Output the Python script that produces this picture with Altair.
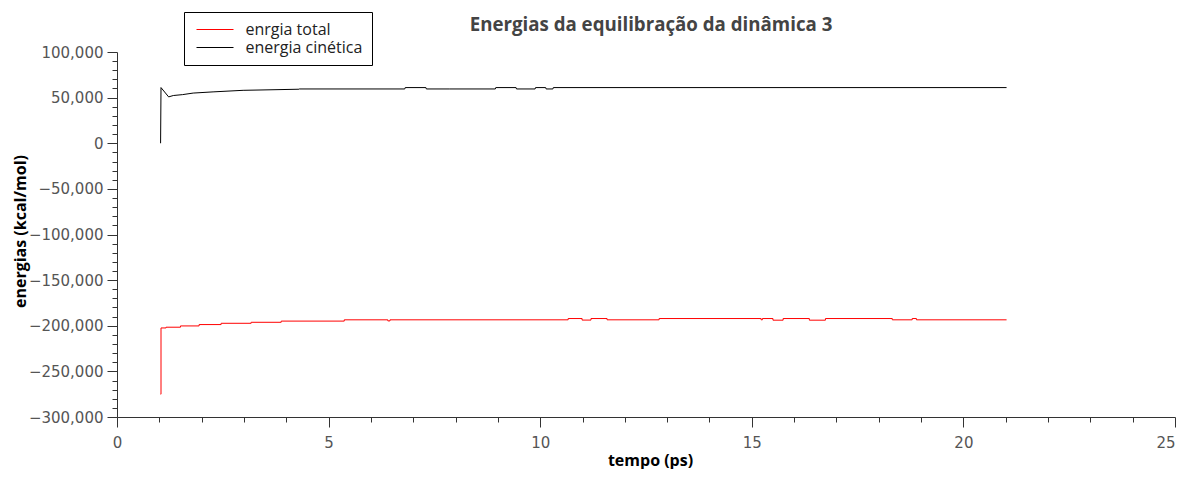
import altair as alt
import pandas as pd

# ---- data ----
series_names = ["enrgia total", "energia cinética"]
series_colors = ["#ff0000", "#000000"]

# energia cinética (linear segments)
time_kin = [1.03, 1.04, 1.22, 1.33, 1.55, 1.8, 2.27, 2.98, 4.3, 4.31, 6.8, 6.81,
            7.3, 7.31, 7.85, 8.94, 8.95, 9.43, 9.44, 9.88, 9.89, 10.13, 10.14,
            10.3, 10.31, 21.02]
kin = [0, 61000, 50800, 52300, 53300, 55000, 56300, 58000, 59200, 59500, 59500,
       61000, 61000, 59500, 59500, 59500, 61000, 61000, 59500, 59500, 61000,
       61000, 59500, 59500, 61000, 61000]

# enrgia total (step levels: value holds from this time on)
time_tot = [1.03, 1.04, 1.16, 1.5, 1.94, 2.46, 3.17, 3.88, 5.37, 6.4, 6.45,
            10.66, 10.99, 11.2, 11.58, 12.81, 15.22, 15.25, 15.5, 15.74, 16.36,
            16.74, 18.32, 18.79, 18.89, 21.02]
tot = [-275000, -202400, -201600, -200200, -198700, -197300, -196200, -194900,
       -193500, -194700, -193500, -192100, -193800, -192100, -193500, -192100,
       -193500, -192100, -193900, -192100, -193900, -192100, -193500, -192100,
       -193500, -193500]

x_ticks = list(range(0, 26))
y_ticks = list(range(-300000, 100001, 10000))

FONT = "Open Sans"
NUM_FONT = "DejaVu Sans"

df_kin = pd.DataFrame({"t": time_kin, "e": kin, "serie": series_names[1]})
df_tot = pd.DataFrame({"t": time_tot, "e": tot, "serie": series_names[0]})

x_enc = alt.X(
    "t:Q",
    scale=alt.Scale(domain=[0, 25], nice=False, zero=False),
    axis=alt.Axis(
        title="tempo (ps)",
        values=x_ticks,
        labelExpr="datum.value % 5 === 0 ? datum.label : ''",
        tickSize={"condition": {"test": "datum.value % 5 === 0", "value": 10}, "value": 5},
        labelAlign={"condition": {"test": "datum.value === 25", "value": "right"}, "value": "center"},
        labelFlush=False,
        labelOverlap=False,
        labelPadding=8,
        titleX=533,
        titleY=48,
        titleBaseline="alphabetic",
    ),
)
y_enc = alt.Y(
    "e:Q",
    scale=alt.Scale(domain=[-300000, 100000], nice=False, zero=False),
    axis=alt.Axis(
        title="energias (kcal/mol)",
        values=y_ticks,
        format=",.0f",
        labelExpr="datum.value % 50000 === 0 ? datum.label : ''",
        tickSize={"condition": {"test": "datum.value % 50000 === 0", "value": 10}, "value": 5},
        labelOverlap=False,
        labelPadding=4,
        titleX=-97,
        titleY=179,
        titleBaseline="middle",
    ),
)
color_enc = alt.Color(
    "serie:N",
    scale=alt.Scale(domain=series_names, range=series_colors),
    legend=alt.Legend(
        title=None,
        orient="none",
        legendX=67,
        legendY=-40,
        strokeColor="black",
        fillColor="white",
        padding=9.5,
        symbolType="M-3.7,0H3.7",
        symbolSize=100,
        symbolStrokeWidth=1,
        symbolOffset=13.5,
        labelOffset=22.5,
        labelFontSize=16,
        labelFont=FONT,
        labelColor="#222222",
        rowPadding=2,
    ),
)

line_tot = alt.Chart(df_tot).mark_line(strokeWidth=1, interpolate="step-after").encode(
    x=x_enc, y=y_enc, color=color_enc, order="t:Q"
)
line_kin = alt.Chart(df_kin).mark_line(strokeWidth=1).encode(
    x=x_enc, y=y_enc, color=color_enc, order="t:Q"
)

chart = (
    alt.layer(line_tot, line_kin)
    .properties(
        width=1058,
        height=365,
        autosize=alt.AutoSizeParams(type="none"),
        padding={"left": 109, "top": 44, "right": 1, "bottom": 52},
        title=alt.TitleParams(
            "Energias da equilibração da dinâmica 3",
            font=FONT,
            fontSize=18.7,
            fontWeight="bold",
            color="#444444",
            anchor="middle",
            frame="group",
            offset=-23,
            dx=5,
        ),
    )
    .configure_view(strokeWidth=0)
    .configure_axis(
        grid=False,
        domainColor="#333333",
        tickColor="#333333",
        domainWidth=1,
        tickWidth=1,
        labelFont=NUM_FONT,
        labelFontSize=15,
        labelColor="#555555",
        titleFont=FONT,
        titleFontSize=16,
        titleFontWeight="bold",
        titleColor="#000000",
    )
)

chart.save("out.html", embed_options={"renderer": "svg", "actions": False})
